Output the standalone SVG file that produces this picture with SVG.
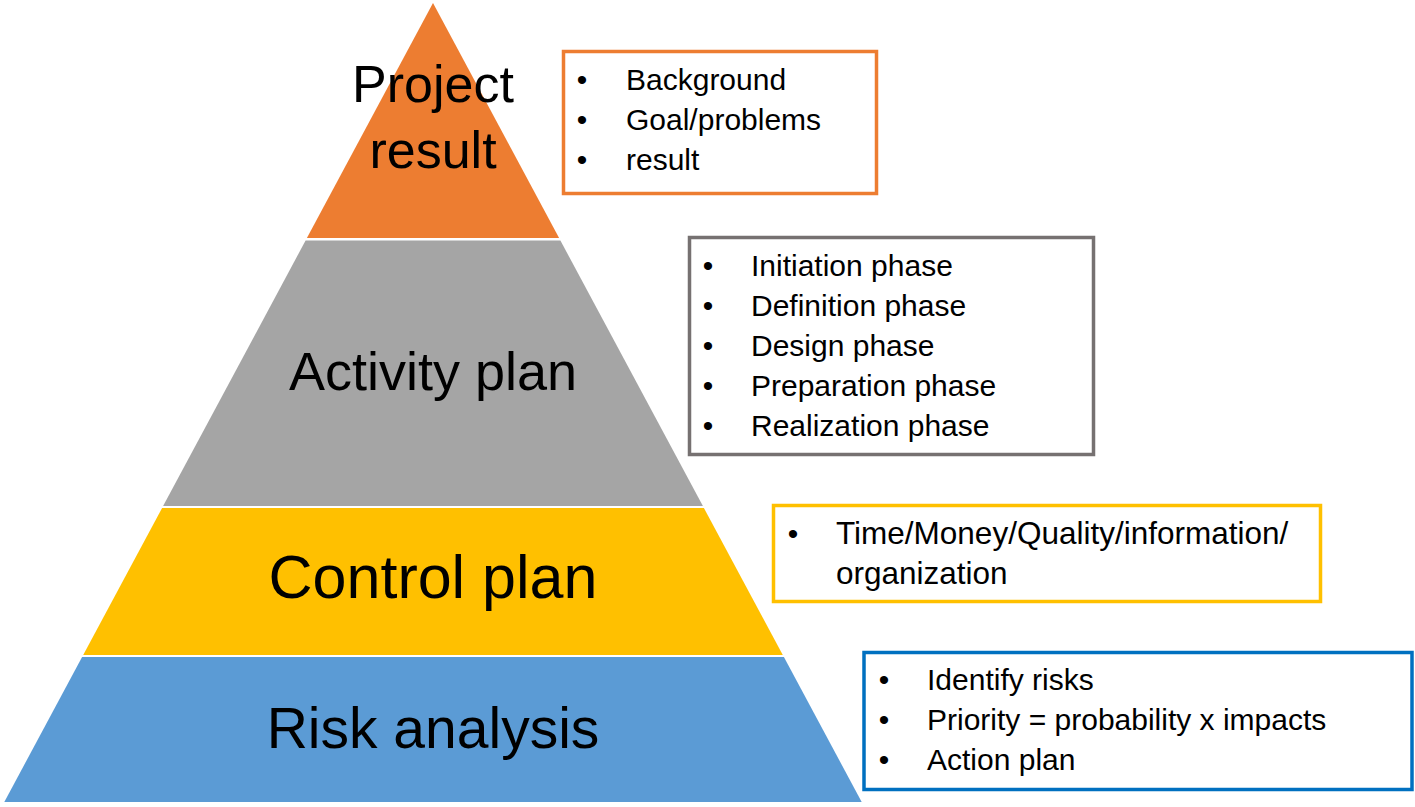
<svg xmlns="http://www.w3.org/2000/svg" width="1415" height="807" viewBox="0 0 1415 807">
<style>
.lbl{font-family:"Liberation Sans",Arial,sans-serif;fill:#000;text-anchor:middle}
.item{font-family:"Liberation Sans",Arial,sans-serif;font-size:30px;fill:#000}
.item.wide{font-size:31.5px}
.bul{font-family:"Liberation Sans",Arial,sans-serif;font-size:30px;fill:#000;text-anchor:middle}
.box{fill:#fff;stroke-width:3.5}
</style>
<rect width="1415" height="807" fill="#fff"/>
<g id="level-project-result">
<polygon points="433,3 559.1,238 306.9,238" fill="#ED7D31"/>
<text class="lbl" font-size="52" x="433" y="102">Project</text>
<text class="lbl" font-size="52" x="433" y="168">result</text>
</g>
<g id="level-activity-plan">
<polygon points="305.6,240.5 560.4,240.5 702.9,506 163.1,506" fill="#A5A5A5"/>
<text class="lbl" font-size="54" x="433" y="390">Activity plan</text>
</g>
<g id="level-control-plan">
<polygon points="162.1,508 703.9,508 782.8,655 83.2,655" fill="#FFC000"/>
<text class="lbl" font-size="61" x="433" y="598">Control plan</text>
</g>
<g id="level-risk-analysis">
<polygon points="82.1,657 783.9,657 861.7,802 4.3,802" fill="#5B9BD5"/>
<text class="lbl" font-size="57" x="433" y="748">Risk analysis</text>
</g>
<g id="box-project-result">
<rect class="box" x="563.5" y="51.5" width="313" height="142" stroke="#ED7D31"/>
<text class="bul" x="582" y="90">•</text><text class="item" x="626" y="90">Background</text>
<text class="bul" x="582" y="130">•</text><text class="item" x="626" y="130">Goal/problems</text>
<text class="bul" x="582" y="170">•</text><text class="item" x="626" y="170">result</text>
</g>
<g id="box-activity-plan">
<rect class="box" x="689.5" y="237.5" width="404" height="217" stroke="#767171"/>
<text class="bul" x="708" y="276">•</text><text class="item" x="751" y="276">Initiation phase</text>
<text class="bul" x="708" y="316">•</text><text class="item" x="751" y="316">Definition phase</text>
<text class="bul" x="708" y="356">•</text><text class="item" x="751" y="356">Design phase</text>
<text class="bul" x="708" y="396">•</text><text class="item" x="751" y="396">Preparation phase</text>
<text class="bul" x="708" y="436">•</text><text class="item" x="751" y="436">Realization phase</text>
</g>
<g id="box-control-plan">
<rect class="box" x="773.5" y="505.5" width="547" height="96" stroke="#FFC000"/>
<text class="bul" x="793" y="544">•</text><text class="item wide" x="836" y="544">Time/Money/Quality/information/</text>
<text class="item wide" x="836" y="584">organization</text>
</g>
<g id="box-risk-analysis">
<rect class="box" x="864" y="652.5" width="548" height="137" stroke="#0070C0"/>
<text class="bul" x="884" y="690">•</text><text class="item" x="927" y="690">Identify risks</text>
<text class="bul" x="884" y="730">•</text><text class="item" x="927" y="730">Priority = probability x impacts</text>
<text class="bul" x="884" y="770">•</text><text class="item" x="927" y="770">Action plan</text>
</g>
<g id="connectors"></g>
</svg>
